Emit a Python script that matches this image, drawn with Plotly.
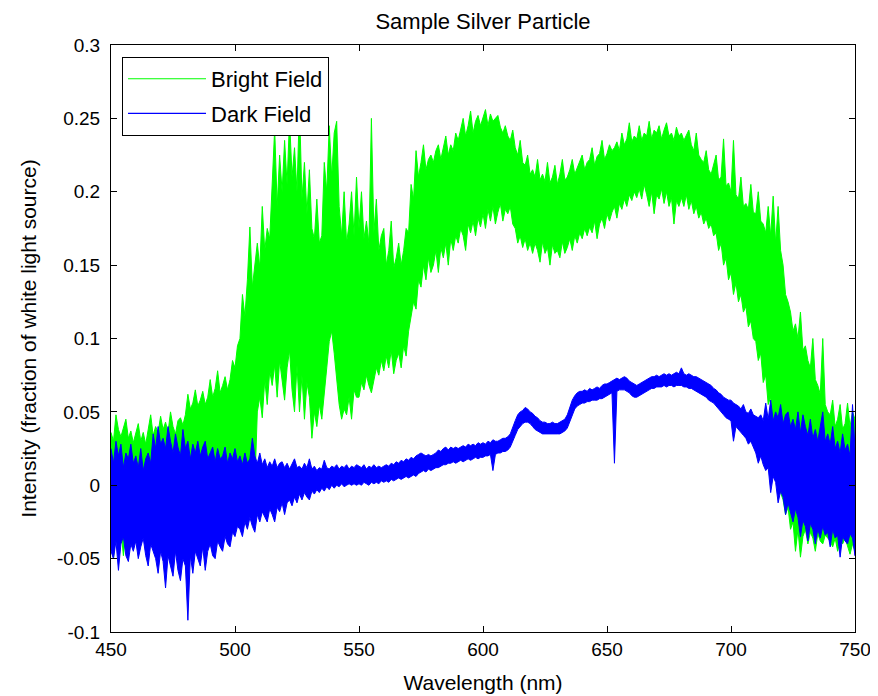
import plotly.graph_objects as go

# ---------------- data (1 nm grid) ----------------
wavelength = list(range(450, 751))

# upper / lower extent of the Bright Field trace at every nm
bright_top = [
    0.036, 0.030, 0.048, 0.038, 0.033, 0.040, 0.045, 0.032, 0.037, 0.029,
    0.035, 0.042, 0.030, 0.036, 0.028, 0.038, 0.048, 0.034, 0.040, 0.036,
    0.047, 0.038, 0.043, 0.036, 0.050, 0.040, 0.035, 0.044, 0.046, 0.041,
    0.048, 0.062, 0.052, 0.056, 0.065, 0.054, 0.058, 0.064, 0.055, 0.060,
    0.072, 0.060, 0.066, 0.078, 0.063, 0.068, 0.074, 0.065, 0.072, 0.085,
    0.080, 0.095, 0.100, 0.130, 0.115, 0.140, 0.176, 0.135, 0.150, 0.165,
    0.148, 0.190, 0.160, 0.175, 0.168, 0.210, 0.243, 0.190, 0.225, 0.200,
    0.235, 0.205, 0.250, 0.210, 0.230, 0.200, 0.260, 0.195, 0.220, 0.185,
    0.215, 0.175, 0.168, 0.195, 0.165, 0.170, 0.220, 0.200, 0.245, 0.210,
    0.240, 0.248, 0.190, 0.170, 0.200, 0.165, 0.178, 0.200, 0.170, 0.210,
    0.175, 0.200, 0.168, 0.180, 0.165, 0.250, 0.172, 0.195, 0.160, 0.170,
    0.175, 0.150, 0.160, 0.180, 0.148, 0.155, 0.165, 0.150, 0.160, 0.175,
    0.172, 0.205, 0.195, 0.228, 0.210, 0.220, 0.232, 0.215, 0.222, 0.225,
    0.220, 0.228, 0.232, 0.222, 0.230, 0.238, 0.225, 0.232, 0.228, 0.240,
    0.235, 0.242, 0.250, 0.238, 0.245, 0.255, 0.240, 0.248, 0.252, 0.245,
    0.250, 0.256, 0.245, 0.253, 0.248, 0.250, 0.252, 0.244, 0.240, 0.245,
    0.238, 0.235, 0.242, 0.230, 0.225, 0.235, 0.220, 0.218, 0.225, 0.212,
    0.215, 0.210, 0.222, 0.208, 0.212, 0.207, 0.220, 0.206, 0.210, 0.218,
    0.205, 0.212, 0.222, 0.208, 0.210, 0.215, 0.222, 0.212, 0.216, 0.220,
    0.225, 0.215, 0.220, 0.222, 0.230, 0.218, 0.224, 0.226, 0.235, 0.222,
    0.226, 0.232, 0.228, 0.230, 0.234, 0.228, 0.240, 0.232, 0.236, 0.247,
    0.234, 0.238, 0.236, 0.245, 0.235, 0.240, 0.238, 0.248, 0.236, 0.242,
    0.240, 0.245, 0.236, 0.242, 0.247, 0.238, 0.240, 0.235, 0.244, 0.238,
    0.240, 0.235, 0.238, 0.242, 0.232, 0.228, 0.240, 0.225, 0.222, 0.220,
    0.228, 0.215, 0.212, 0.218, 0.225, 0.208, 0.210, 0.236, 0.204, 0.206,
    0.200, 0.235, 0.198, 0.195, 0.210, 0.190, 0.192, 0.188, 0.205, 0.186,
    0.185, 0.200, 0.180, 0.178, 0.172, 0.190, 0.170, 0.197, 0.165, 0.190,
    0.160, 0.150, 0.130, 0.125, 0.118, 0.105, 0.110, 0.100, 0.118, 0.092,
    0.095, 0.085, 0.080, 0.100, 0.072, 0.068, 0.062, 0.100, 0.055, 0.050,
    0.048, 0.058, 0.040, 0.045, 0.055, 0.038, 0.042, 0.056, 0.040, 0.050,
    0.045]
bright_bottom = [
    -0.035, -0.050, -0.030, -0.040, -0.030, -0.048, -0.032, -0.028, -0.035, -0.030,
    -0.028, -0.035, -0.026, -0.030, -0.025, -0.032, -0.026, -0.028, -0.025, -0.030,
    -0.025, -0.028, -0.022, -0.026, -0.022, -0.025, -0.020, -0.024, -0.020, -0.022,
    -0.020, -0.022, -0.018, -0.020, -0.018, -0.016, -0.018, -0.015, -0.016, -0.014,
    -0.012, -0.014, -0.010, -0.012, -0.008, -0.010, -0.006, -0.008, -0.004, -0.005,
    -0.002, 0.000, 0.003, 0.002, 0.005, 0.004, 0.008, 0.006, 0.000, 0.050,
    0.060, 0.046, 0.072, 0.055, 0.078, 0.068, 0.082, 0.060, 0.085, 0.070,
    0.058, 0.080, 0.092, 0.065, 0.050, 0.082, 0.050, 0.075, 0.045, 0.070,
    0.060, 0.032, 0.050, 0.040, 0.055, 0.045, 0.060, 0.080, 0.098, 0.105,
    0.090, 0.075, 0.055, 0.045, 0.052, 0.048, 0.060, 0.045, 0.065, 0.060,
    0.060, 0.070, 0.065, 0.075, 0.068, 0.063, 0.070, 0.080, 0.075, 0.085,
    0.078, 0.088, 0.080, 0.092, 0.076, 0.085, 0.090, 0.080, 0.095, 0.088,
    0.105, 0.115, 0.125, 0.120, 0.140, 0.135, 0.150, 0.140, 0.155, 0.145,
    0.150, 0.160, 0.145, 0.162, 0.155, 0.165, 0.150, 0.168, 0.160, 0.170,
    0.165, 0.175, 0.170, 0.160, 0.178, 0.172, 0.180, 0.170, 0.182, 0.176,
    0.185, 0.175, 0.188, 0.180, 0.190, 0.178, 0.186, 0.192, 0.180, 0.188,
    0.185, 0.190, 0.178, 0.175, 0.165, 0.170, 0.162, 0.168, 0.160, 0.165,
    0.158, 0.165, 0.160, 0.152, 0.166, 0.158, 0.162, 0.150, 0.164, 0.158,
    0.160, 0.155, 0.166, 0.158, 0.162, 0.168, 0.160, 0.170, 0.165, 0.172,
    0.168, 0.175, 0.170, 0.176, 0.172, 0.180, 0.168, 0.178, 0.182, 0.175,
    0.185, 0.180, 0.186, 0.190, 0.182, 0.192, 0.188, 0.195, 0.190, 0.198,
    0.194, 0.200, 0.196, 0.202, 0.195, 0.205, 0.198, 0.190, 0.200, 0.185,
    0.198, 0.195, 0.202, 0.192, 0.200, 0.190, 0.196, 0.178, 0.194, 0.190,
    0.196, 0.190, 0.198, 0.188, 0.194, 0.185, 0.190, 0.182, 0.186, 0.178,
    0.182, 0.175, 0.178, 0.170, 0.172, 0.160, 0.165, 0.150, 0.155, 0.140,
    0.145, 0.130, 0.138, 0.125, 0.130, 0.118, 0.122, 0.108, 0.112, 0.100,
    0.098, 0.085, 0.090, 0.070, 0.075, 0.055, 0.060, 0.030, 0.040, 0.000,
    -0.005, -0.010, -0.020, -0.015, -0.030, -0.025, -0.045, -0.030, -0.049, -0.035,
    -0.030, -0.040, -0.032, -0.036, -0.045, -0.033, -0.038, -0.040, -0.034, -0.036,
    -0.038, -0.042, -0.036, -0.045, -0.038, -0.040, -0.036, -0.042, -0.047, -0.040,
    -0.045]

# upper / lower extent of the Dark Field trace at every nm
dark_top = [
    0.025, 0.015, 0.030, 0.020, 0.028, 0.012, 0.022, 0.018, 0.028, 0.015,
    0.020, 0.012, 0.025, 0.010, 0.018, 0.022, 0.015, 0.035, 0.025, 0.040,
    0.028, 0.032, 0.025, 0.040, 0.030, 0.022, 0.035, 0.026, 0.020, 0.038,
    0.025, 0.030, 0.018, 0.028, 0.022, 0.030, 0.020, 0.026, 0.030, 0.018,
    0.022, 0.026, 0.016, 0.025, 0.018, 0.020, 0.026, 0.015, 0.022, 0.018,
    0.025, 0.016, 0.020, 0.014, 0.022, 0.015, 0.018, 0.032, 0.020, 0.015,
    0.022, 0.014, 0.018, 0.012, 0.016, 0.013, 0.018, 0.012, 0.015, 0.016,
    0.012, 0.015, 0.011, 0.014, 0.018, 0.012, 0.013, 0.011, 0.015, 0.012,
    0.018, 0.011, 0.013, 0.010, 0.012, 0.011, 0.017, 0.012, 0.011, 0.013,
    0.012, 0.014, 0.011, 0.013, 0.012, 0.014, 0.011, 0.013, 0.012, 0.014,
    0.013, 0.012, 0.014, 0.011, 0.013, 0.012, 0.014, 0.012, 0.013, 0.012,
    0.013, 0.014, 0.013, 0.015, 0.014, 0.016, 0.015, 0.017, 0.016, 0.018,
    0.017, 0.019, 0.018, 0.020, 0.021, 0.022, 0.021, 0.020, 0.021, 0.020,
    0.021, 0.022, 0.024, 0.023, 0.025, 0.026, 0.024, 0.026, 0.025, 0.026,
    0.025, 0.026, 0.027, 0.026, 0.028, 0.027, 0.028, 0.027, 0.029, 0.028,
    0.029, 0.028, 0.030, 0.029, 0.031, 0.030, 0.030, 0.031, 0.032, 0.032,
    0.033, 0.035, 0.040, 0.044, 0.048, 0.050, 0.051, 0.053, 0.052, 0.050,
    0.049, 0.047, 0.046, 0.044, 0.043, 0.043, 0.042, 0.042, 0.043, 0.042,
    0.042, 0.043, 0.044, 0.045, 0.048, 0.053, 0.058, 0.061, 0.063, 0.064,
    0.064, 0.065, 0.064, 0.066, 0.065, 0.066, 0.067, 0.066, 0.068, 0.069,
    0.069, 0.070, 0.071, 0.072, 0.073, 0.072, 0.073, 0.074, 0.073, 0.071,
    0.070, 0.069, 0.068, 0.069, 0.070, 0.071, 0.072, 0.073, 0.074, 0.074,
    0.075, 0.074, 0.075, 0.076, 0.075, 0.076, 0.075, 0.076, 0.077, 0.076,
    0.080, 0.076, 0.075, 0.076, 0.075, 0.074, 0.074, 0.073, 0.072, 0.071,
    0.070, 0.069, 0.068, 0.066, 0.065, 0.063, 0.062, 0.060, 0.059, 0.058,
    0.058, 0.056, 0.055, 0.054, 0.052, 0.055, 0.050, 0.049, 0.052, 0.048,
    0.047, 0.046, 0.048, 0.044, 0.056, 0.045, 0.058, 0.044, 0.050, 0.046,
    0.055, 0.042, 0.048, 0.050, 0.040, 0.045, 0.038, 0.050, 0.036, 0.048,
    0.040, 0.034, 0.045, 0.032, 0.038, 0.030, 0.040, 0.050, 0.030, 0.035,
    0.028, 0.040, 0.025, 0.030, 0.022, 0.035, 0.024, 0.028, 0.020, 0.055,
    0.025]
dark_bottom = [
    -0.045, -0.050, -0.038, -0.058, -0.040, -0.035, -0.048, -0.052, -0.040, -0.045,
    -0.038, -0.050, -0.042, -0.036, -0.048, -0.055, -0.040, -0.045, -0.050, -0.060,
    -0.045, -0.052, -0.070, -0.048, -0.055, -0.062, -0.045, -0.058, -0.065, -0.050,
    -0.055, -0.092, -0.048, -0.060, -0.045, -0.050, -0.055, -0.042, -0.058, -0.045,
    -0.040, -0.048, -0.050, -0.038, -0.042, -0.045, -0.035, -0.040, -0.042, -0.032,
    -0.035, -0.028, -0.030, -0.035, -0.025, -0.030, -0.022, -0.028, -0.032, -0.020,
    -0.025, -0.018, -0.022, -0.025, -0.016, -0.020, -0.025, -0.015, -0.018, -0.012,
    -0.020, -0.012, -0.010, -0.014, -0.008, -0.012, -0.006, -0.010, -0.005, -0.008,
    -0.010, -0.004, -0.006, -0.003, -0.005, -0.002, -0.004, -0.001, -0.003, 0.000,
    -0.002, 0.000, -0.001, 0.001, -0.001, 0.000, 0.001, 0.000, 0.001, 0.000,
    0.001, 0.000, 0.002, 0.001, 0.000, 0.002, 0.001, 0.002, 0.001, 0.003,
    0.002, 0.003, 0.002, 0.004, 0.003, 0.004, 0.005, 0.004, 0.005, 0.006,
    0.005, 0.006, 0.007, 0.006, 0.008, 0.009, 0.010, 0.009, 0.011, 0.010,
    0.011, 0.012, 0.012, 0.013, 0.014, 0.014, 0.015, 0.015, 0.016, 0.015,
    0.016, 0.017, 0.016, 0.017, 0.018, 0.017, 0.018, 0.019, 0.018, 0.019,
    0.019, 0.020, 0.020, 0.021, 0.010, 0.021, 0.022, 0.022, 0.023, 0.023,
    0.024, 0.026, 0.030, 0.034, 0.038, 0.040, 0.042, 0.043, 0.043, 0.042,
    0.040, 0.038, 0.037, 0.036, 0.035, 0.035, 0.035, 0.035, 0.035, 0.035,
    0.035, 0.035, 0.036, 0.037, 0.039, 0.044, 0.048, 0.052, 0.054, 0.055,
    0.056, 0.056, 0.057, 0.057, 0.058, 0.058, 0.058, 0.059, 0.059, 0.060,
    0.061, 0.062, 0.063, 0.015, 0.064, 0.065, 0.065, 0.065, 0.064, 0.063,
    0.061, 0.060, 0.060, 0.061, 0.062, 0.063, 0.064, 0.065, 0.066, 0.066,
    0.067, 0.067, 0.067, 0.068, 0.067, 0.068, 0.068, 0.067, 0.068, 0.068,
    0.068, 0.067, 0.067, 0.066, 0.066, 0.065, 0.064, 0.063, 0.062, 0.061,
    0.060, 0.058, 0.057, 0.056, 0.054, 0.052, 0.050, 0.048, 0.046, 0.045,
    0.044, 0.030, 0.040, 0.038, 0.036, 0.034, 0.032, 0.028, 0.030, 0.026,
    0.022, 0.015, 0.020, 0.014, 0.010, 0.012, -0.005, 0.006, 0.002, -0.012,
    -0.004, -0.008, -0.020, -0.012, -0.018, -0.025, -0.016, -0.022, -0.035, -0.024,
    -0.028, -0.038, -0.026, -0.030, -0.040, -0.030, -0.036, -0.028, -0.034, -0.032,
    -0.042, -0.030, -0.036, -0.034, -0.049, -0.035, -0.038, -0.040, -0.033, -0.036,
    -0.048]

x_ticks = [450, 500, 550, 600, 650, 700, 750]
y_ticks = [-0.1, -0.05, 0, 0.05, 0.1, 0.15, 0.2, 0.25, 0.3]
y_tick_text = ["-0.1", "-0.05", "0", "0.05", "0.1", "0.15", "0.2", "0.25", "0.3"]

GREEN = "#00FF00"
BLUE = "#0000FF"
FONT = "Liberation Sans, Arial, sans-serif"


def band_trace(top, bottom, color):
    xs = list(wavelength) + list(wavelength[::-1])
    ys = list(top) + list(bottom[::-1])
    return go.Scatter(x=xs, y=ys, mode="lines", fill="toself", fillcolor=color,
                      line=dict(color=color, width=1), showlegend=False, hoverinfo="skip")


fig = go.Figure()
fig.add_trace(band_trace(bright_top, bright_bottom, GREEN))
fig.add_trace(band_trace(dark_top, dark_bottom, BLUE))

# legend entries
fig.add_trace(go.Scatter(x=[None], y=[None], mode="lines", name="Bright Field",
                         line=dict(color=GREEN, width=1.2), legendgroup="a"))
fig.add_trace(go.Scatter(x=[None], y=[None], mode="lines", name="Dark Field",
                         line=dict(color=BLUE, width=1.2), legendgroup="b"))

axis_common = dict(showline=True, linecolor="black", linewidth=1, mirror="ticks",
                   ticks="inside", ticklen=6, tickcolor="black", showgrid=False,
                   zeroline=False, automargin=False,
                   tickfont=dict(size=19, color="black", family=FONT))

# the page body adds an 8 px offset, margins compensate for it
fig.update_layout(
    width=878, height=696,
    margin=dict(l=103, r=31, t=37, b=72),
    paper_bgcolor="white", plot_bgcolor="white",
    font=dict(family=FONT, color="black"),
    title=dict(text="Sample Silver Particle", x=0.5, xref="paper", xanchor="center",
               y=1 - 13 / 696, yanchor="middle", font=dict(size=22, color="black")),
    xaxis=dict(range=[450, 750], tickvals=x_ticks, ticktext=[str(t) for t in x_ticks],
               title=dict(text="Wavelength (nm)", font=dict(size=21), standoff=16),
               **axis_common),
    yaxis=dict(range=[-0.1, 0.3], tickvals=y_ticks, ticktext=y_tick_text,
               ticklabelstandoff=6,
               title=dict(text="Intensity (fraction of white light source)",
                          font=dict(size=21), standoff=14),
               **axis_common),
    legend=dict(x=0.0148, y=0.9796, xanchor="left", yanchor="top", bgcolor="white",
                bordercolor="black", borderwidth=1, font=dict(size=22, color="black"),
                tracegroupgap=3, itemwidth=78),
    showlegend=True,
)

fig.write_html("out.html")
